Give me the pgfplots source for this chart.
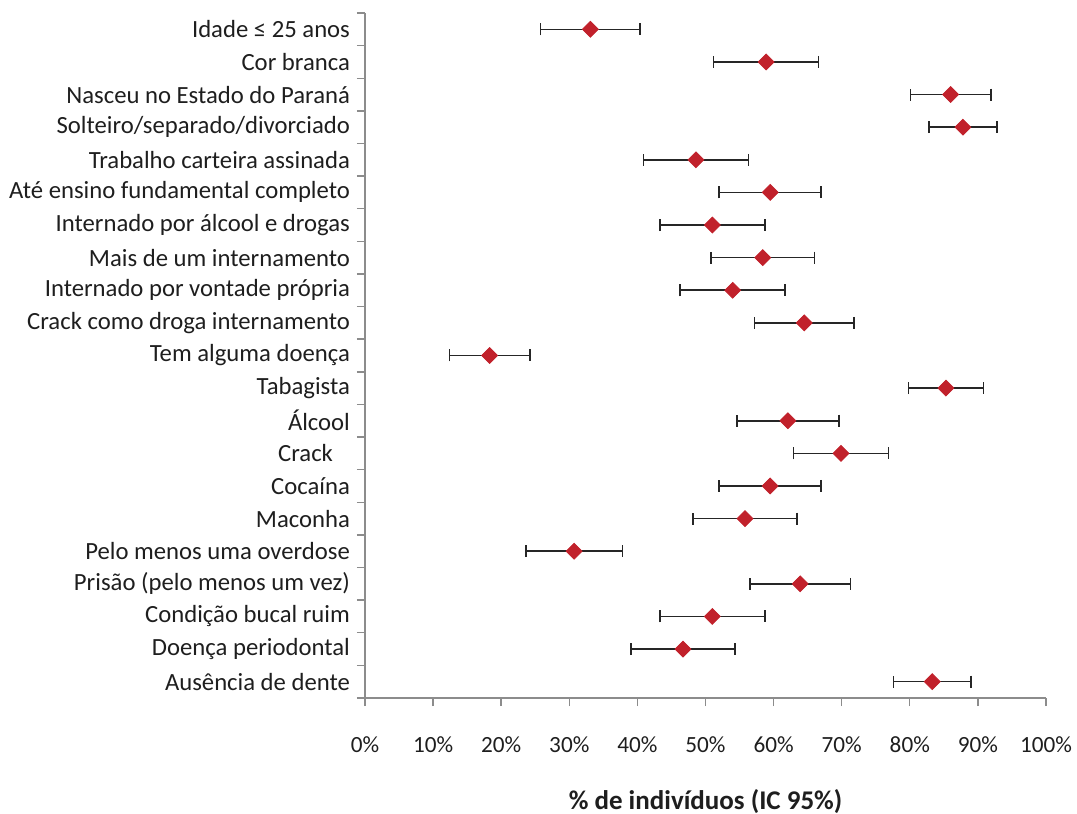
\documentclass[border=0pt]{standalone}
\usepackage{pgfplots}
\pgfplotsset{compat=1.18}
\usepackage{pgfplotstable}
\usepackage{fontspec}
\setmainfont{Carlito}
\definecolor{mkred}{HTML}{C1212B}
\definecolor{axgray}{HTML}{8C8C8C}
\definecolor{txt}{HTML}{1E1E1E}
\definecolor{errc}{HTML}{262626}
\pgfplotstableread{
x y e
33.1 20 7.3
58.9 19 7.7
86.0 18 5.9
87.8 17 5.0
48.6 16 7.7
59.5 15 7.5
51.0 14 7.7
58.4 13 7.6
54.0 12 7.7
64.5 11 7.3
18.3 10 5.9
85.3 9 5.5
62.1 8 7.5
69.9 7 7.0
59.5 6 7.5
55.8 5 7.6
30.7 4 7.1
63.9 3 7.4
51.0 2 7.7
46.7 1 7.6
83.3 0 5.7
}\datatab
\begin{document}
\begin{tikzpicture}
\path[use as bounding box] (-182.5pt,-58pt) rectangle (356pt,349pt);
\begin{axis}[
  at={(0,0)}, anchor=south west,
  scale only axis, width=340.5pt, height=342.5pt,
  xmin=0, xmax=100, ymin=-0.5, ymax=20.5,
  axis x line*=bottom, axis y line*=left,
  axis line style={axgray, line width=0.7pt},
  tick align=outside, major tick length=4pt,
  tick style={axgray, line width=0.7pt},
  font=\fontsize{11.6}{14}\selectfont,
  every tick label/.append style={text=txt},
  /pgf/number format/assume math mode=true,
  xtick={0,10,...,100},
  xticklabel={\pgfmathprintnumber{\tick}\%},
  xticklabel style={yshift=-12pt},
  ytick={-0.5,0.5,...,20.5}, yticklabels={},
  extra y ticks={0,1,...,20},
  extra y tick labels={Ausência de dente, Doença periodontal, Condição bucal ruim, Prisão (pelo menos um vez), Pelo menos uma overdose, Maconha, Cocaína, Crack\hspace*{8.5pt}, Álcool, Tabagista, Tem alguma doença, Crack como droga internamento, Internado por vontade própria, Mais de um internamento, Internado por álcool e drogas, Até ensino fundamental completo, Trabalho carteira assinada, Solteiro/separado/divorciado, Nasceu no Estado do Paraná, Cor branca, Idade ≤ 25 anos},
  extra y tick style={major tick length=0pt, yticklabel style={anchor=east, xshift=-4pt, font=\fontsize{12.35}{14}\selectfont}},
  clip=false,
]
\addplot[errc, only marks, mark=square*, mark size=2.8pt,
  mark options={rotate=45, fill=mkred, draw=mkred},
  error bars/.cd, x dir=both, x explicit,
  error bar style={errc, line width=0.8pt},
  error mark=|,
  error mark options={errc, mark size=3pt, line width=0.8pt}]
  table[x=x, y=y, x error=e] {\datatab};
\end{axis}
\node[font=\fontsize{13.5}{16}\selectfont\bfseries, text=txt] at (170.25pt,-52pt) {\% de indivíduos (IC 95\%)};
\end{tikzpicture}
\end{document}
